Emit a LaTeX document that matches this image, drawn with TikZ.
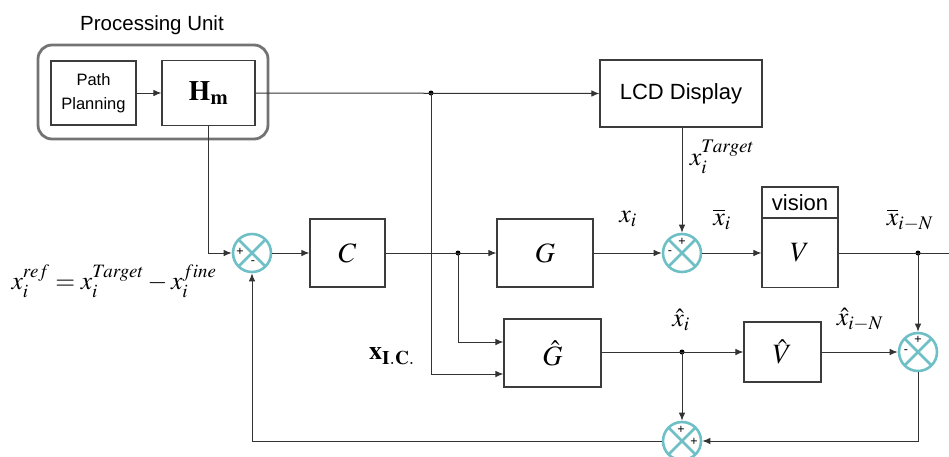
\documentclass[tikz,border=0pt]{standalone}
\usepackage{mathptmx}
\usepackage[no-math]{fontspec}
\setmainfont{Liberation Serif}
\setsansfont{Liberation Sans}
\usetikzlibrary{arrows.meta}
\definecolor{sumcol}{RGB}{110,192,198}
\definecolor{boxline}{RGB}{60,60,60}
\begin{document}
\begin{tikzpicture}[x=1pt,y=-1pt,
  blk/.style={draw=boxline,line width=1.1pt,fill=white,inner sep=0pt},
  sumnode/.style={circle,draw=sumcol,line width=2.6pt,minimum size=38pt,inner sep=0pt,fill=white,
     path picture={\draw[sumcol,line width=2.6pt] (path picture bounding box.north west)--(path picture bounding box.south east) (path picture bounding box.north east)--(path picture bounding box.south west);}},
  conn/.style={draw=black!80,line width=1pt},
  arr/.style={conn,-{Latex[length=8pt,width=6.5pt]}},
  jdot/.style={circle,fill=black,inner sep=0pt,minimum size=5pt},
  sgn/.style={font=\sffamily\fontsize{12.5}{12.5}\selectfont,inner sep=0pt,text=black},
  lbl/.style={inner sep=0pt,font=\fontsize{26}{26}\selectfont},
  big/.style={font=\fontsize{28}{28}\selectfont},
  sans/.style={font=\sffamily\fontsize{#1}{#1}\selectfont}
]
\useasboundingbox (0,0) rectangle (949,456);

% processing unit
\node[sans=20.5,inner sep=0pt] (title) at (152,25) {Processing Unit};
\node[draw=black!55,line width=2.8pt,rounded corners=14pt,minimum width=230pt,minimum height=94pt,inner sep=0pt] (pu) at (153,92) {};
\node[blk,minimum width=85pt,minimum height=64pt,align=center,font=\sffamily\fontsize{16.5}{24}\selectfont] (pp) at (93.5,93) {Path\\Planning};
\node[blk,minimum width=93pt,minimum height=65pt,big] (hm) at (208.5,93) {$\mathbf{H}_{\mathbf{m}}$};

% top
\node[blk,minimum width=162pt,minimum height=67pt,sans=22] (lcd) at (681,93.5) {LCD Display};

% main row
\node[sumnode] (s1) at (252,253) {};
\node[blk,minimum width=75pt,minimum height=68pt,big] (c) at (347.5,253) {$C$};
\node[blk,minimum width=96pt,minimum height=68pt,big] (g) at (545,253) {$G$};
\node[sumnode] (s2) at (682,253) {};
\node[blk,minimum width=76pt,minimum height=31pt,sans=22] (vis) at (800,202.5) {vision};
\node[blk,minimum width=76pt,minimum height=69pt,big] (v) at (800,253) {$V$};

% lower row
\node[blk,minimum width=97pt,minimum height=68pt,big] (gh) at (552.5,353) {$\hat{G}$};
\node[blk,minimum width=77pt,minimum height=60pt,big] (vh) at (782.5,352) {$\hat{V}$};
\node[sumnode] (s3) at (918,352) {};
\node[sumnode] (s4) at (682,441) {};

% junctions
\node[jdot] (j1) at (431,93) {};
\node[jdot] (j2) at (458,253) {};
\node[jdot] (j3) at (918,253) {};
\node[jdot] (j4) at (682,352) {};
\coordinate (rend) at (949,253);
\coordinate (k1) at (431,374);
\coordinate (k2) at (458,342);

% connectors
\draw[arr] (pp.east) -- (hm.west);
\draw[arr] (hm.east) -- (lcd.west);
\draw[arr] (hm.south) |- (s1.west);
\draw[arr] (s1.east) -- (s1.east -| c.west);
\draw[arr] (c.east) -- (c.east -| g.west);
\draw[conn] (j1.center) -- (k1);
\draw[arr] (k1) -- (k1 -| gh.west);
\draw[conn] (j2.center) -- (k2);
\draw[arr] (k2) -- (k2 -| gh.west);
\draw[arr] (g.east) -- (s2.west);
\draw[arr] (s2.north |- lcd.south) -- (s2.north);
\draw[arr] (s2.east) -- (s2.east -| v.west);
\draw[conn] (v.east) -- (rend);
\draw[arr] (j3.center) -- (s3.north);
\draw[arr] (gh.east |- j4) -- (j4 -| vh.west);
\draw[arr] (j4.center) -- (s4.north);
\draw[arr] (vh.east) -- (s3.west);
\draw[arr] (s3.south) |- (s4.east);
\draw[arr] (s4.west) -| (s1.south);

% sum signs
\node[sgn] (s1p) at (240,252) {+};
\node[sgn] (s1m) at (253,263) {-};
\node[sgn] (s2p) at (682,242) {+};
\node[sgn] (s2m) at (670,253) {-};
\node[sgn] (s3p) at (918,340) {+};
\node[sgn] (s3m) at (906,352) {-};
\node[sgn] (s4p) at (681,430) {+};
\node[sgn] (s4q) at (694,442) {+};

% labels
\node[lbl] (lxi) at (628,219) {$x_i$};
\node[lbl] (lxb) at (722,219) {$\overline{x}_i$};
\node[lbl] (lxbn) at (910,220) {$\overline{x}_{i-N}$};
\node[lbl] (lxt) at (722,157) {$x_i^{Target}$};
\node[lbl] (lxh) at (681,320) {$\hat{x}_i$};
\node[lbl] (lxhn) at (860,320) {$\hat{x}_{i-N}$};
\node[lbl,font=\fontsize{26}{26}\selectfont] (lic) at (392,356) {$\mathbf{x}_{\mathbf{I.C.}}$};
\node[inner sep=0pt,font=\fontsize{25.5}{25.5}\selectfont] (form) at (114,281) {$x_i^{ref} = x_i^{Target} - x_i^{fine}$};
\end{tikzpicture}
\end{document}
